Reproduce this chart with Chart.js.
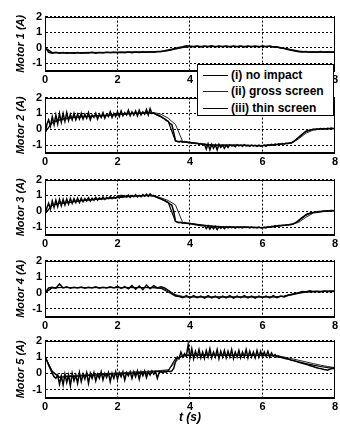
<!DOCTYPE html>
<html>
<head>
<meta charset="utf-8">
<script src="https://cdn.jsdelivr.net/npm/chart.js@4.4.0/dist/chart.umd.min.js"></script>
<style>
body { margin: 0; background: #fff; }
#marco { position: relative; width: 340px; height: 430px; overflow: hidden; background: #fff; }
.panel { position: absolute; left: 0; }
#leyenda { position: absolute; left: 197px; top: 64px; width: 135px; height: 50px; border: 1px solid #000; background: #fff; z-index: 5;
  font-family: "Liberation Sans", Arial, sans-serif; font-weight: bold; font-size: 12px; color: #000; }
.fila { position: absolute; left: 0; height: 14px; line-height: 14px; white-space: nowrap; }
.muestra { position: absolute; left: 5px; top: 7px; width: 25px; height: 0; border-top: 1px solid #000; }
.texto { position: absolute; left: 33px; top: 0; }
</style>
</head>
<body>
<div id="marco">
  <canvas id="c0" class="panel"></canvas>
  <canvas id="c1" class="panel"></canvas>
  <canvas id="c2" class="panel"></canvas>
  <canvas id="c3" class="panel"></canvas>
  <canvas id="c4" class="panel"></canvas>
  <div id="leyenda"></div>
</div>
<script>
// tiempos de muestreo (s)
const tDenso = [0,0.05,0.1,0.15,0.2,0.25,0.3,0.35,0.4,0.45,0.5,0.55,0.6,0.65,0.7,0.75,0.8,0.85,0.9,0.95,
  1,1.05,1.1,1.15,1.2,1.25,1.3,1.35,1.4,1.45,1.5,1.55,1.6,1.65,1.7,1.75,1.8,1.85,1.9,1.95,
  2,2.05,2.1,2.15,2.2,2.25,2.3,2.35,2.4,2.45,2.5,2.55,2.6,2.65,2.7,2.75,2.8,2.85,2.9,2.95,
  3,3.05,3.1,3.15,3.2,3.25,3.3,3.35,3.4,3.45,3.5,3.55,3.6,3.65,3.7,3.75,3.8,3.85,3.9,3.95,
  4,4.05,4.1,4.15,4.2,4.25,4.3,4.35,4.4,4.45,4.5,4.55,4.6,4.65,4.7,4.75,4.8,4.85,4.9,4.95,
  5,5.05,5.1,5.15,5.2,5.25,5.3,5.35,5.4,5.45,5.5,5.55,5.6,5.65,5.7,5.75,5.8,5.85,5.9,5.95,
  6,6.05,6.1,6.15,6.2,6.25,6.3,6.35,6.4,6.45,6.5,6.55,6.6,6.65,6.7,6.75,6.8,6.85,6.9,6.95,
  7,7.05,7.1,7.15,7.2,7.25,7.3,7.35,7.4,7.45,7.5,7.55,7.6,7.65,7.7,7.75,7.8,7.85,7.9,7.95,8];
const tFino = [0,0.1,0.2,0.3,0.4,0.5,0.6,0.7,0.8,0.9,
  1,1.1,1.2,1.3,1.4,1.5,1.6,1.7,1.8,1.9,
  2,2.1,2.2,2.3,2.4,2.5,2.6,2.7,2.8,2.9,
  3,3.1,3.2,3.3,3.4,3.5,3.6,3.7,3.8,3.9,
  4,4.1,4.2,4.3,4.4,4.5,4.6,4.7,4.8,4.9,
  5,5.1,5.2,5.3,5.4,5.5,5.6,5.7,5.8,5.9,
  6,6.1,6.2,6.3,6.4,6.5,6.6,6.7,6.8,6.9,
  7,7.1,7.2,7.3,7.4,7.5,7.6,7.7,7.8,7.9,8];
const tGrueso = [0,0.2,0.4,0.6,0.8,1,1.2,1.4,1.6,1.8,
  2,2.2,2.4,2.6,2.8,3,3.2,3.4,3.6,3.8,
  4,4.2,4.4,4.6,4.8,5,5.2,5.4,5.6,5.8,
  6,6.2,6.4,6.6,6.8,7,7.2,7.4,7.6,7.8,8];

const ticksX = [0, 2, 4, 6, 8];
const ticksY = [-1, 0, 1, 2];
const nombresSerie = ["(i) no impact", "(ii) gross screen", "(iii) thin screen"];
const titulosY = ["Motor 1 (A)", "Motor 2 (A)", "Motor 3 (A)", "Motor 4 (A)", "Motor 5 (A)"];
const tituloX = "t (s)";

// Motor 1
const motor1_i = [0,-0.32,-0.33,-0.33,-0.33,-0.33,-0.32,-0.32,-0.31,-0.31,
  -0.3,-0.3,-0.29,-0.29,-0.28,-0.27,-0.25,-0.18,-0.07,0.03,
  0.08,0.08,0.08,0.08,0.08,0.08,0.08,0.08,0.08,0.08,
  0.08,0.08,0.04,-0.05,-0.15,-0.24,-0.27,-0.28,-0.28,-0.28,-0.28];
const motor1_ii = [0,-0.3,-0.31,-0.31,-0.31,-0.31,-0.3,-0.3,-0.3,-0.29,
  -0.29,-0.28,-0.28,-0.27,-0.27,-0.26,-0.24,-0.2,-0.1,0,
  0.06,0.07,0.07,0.07,0.07,0.07,0.07,0.07,0.07,0.07,
  0.07,0.07,0.05,-0.02,-0.12,-0.21,-0.26,-0.27,-0.27,-0.27,-0.27];
const motor1_iii = [0.05,-0.3,-0.36,-0.3,-0.35,-0.31,-0.36,-0.32,-0.35,-0.31,
  -0.36,-0.32,-0.34,-0.3,-0.35,-0.31,-0.34,-0.3,-0.33,-0.29,
  -0.33,-0.29,-0.32,-0.28,-0.32,-0.28,-0.31,-0.27,-0.3,-0.26,
  -0.29,-0.25,-0.25,-0.2,-0.14,-0.1,-0.04,0.02,0.06,0.12,
  0.1,0.06,0.11,0.05,0.1,0.06,0.12,0.05,0.1,0.06,
  0.11,0.05,0.1,0.06,0.11,0.05,0.1,0.06,0.11,0.05,
  0.1,0.06,0.1,0.05,0.04,-0.02,-0.06,-0.12,-0.17,-0.22,
  -0.26,-0.28,-0.25,-0.3,-0.26,-0.29,-0.25,-0.3,-0.26,-0.29,-0.27];

// Motor 2
const motor2_i = [-0.2,0.45,0.6,0.7,0.75,0.8,0.8,0.85,0.85,0.9,
  0.95,0.95,1,1,1.05,1,0.8,0.5,-0.75,-0.8,
  -0.85,-0.9,-0.95,-1,-1,-1,-1,-1.02,-1.02,-1.03,
  -1.03,-1,-0.97,-0.93,-0.88,-0.5,-0.12,0,0.02,0.04,0.05];
const motor2_ii = [-0.2,0.4,0.55,0.65,0.75,0.78,0.82,0.85,0.88,0.9,
  0.93,0.97,1,1.02,1.05,1.05,0.95,0.7,0.3,-0.78,
  -0.82,-0.88,-0.93,-0.98,-1,-1,-1,-1,-1.02,-1.02,
  -1.02,-0.98,-0.95,-0.9,-0.85,-0.6,-0.25,-0.05,0,0.03,0.05];
const motor2_iii = [-0.3,0.3,0.6,0.2,0.8,0.3,0.9,0.35,1,0.45,1,0.5,1.05,0.55,0.95,0.6,1,0.6,0.95,0.65,
  1,0.65,0.95,0.7,1.05,0.6,0.9,0.75,1,0.65,0.95,0.75,1.05,0.7,0.95,0.8,1.1,0.75,1,0.8,
  1.1,0.8,1.15,0.85,1.05,0.9,1.2,0.85,1.1,0.9,1.15,0.85,1.2,0.9,1.1,0.95,1.25,0.9,1.3,1,
  1.05,0.95,0.9,0.85,0.8,0.72,0.65,0.55,0.5,0.35,0.3,-0.2,-0.7,-0.78,-0.8,-0.75,-0.82,-0.78,-0.8,-0.85,
  -0.82,-0.88,-0.85,-0.9,-0.88,-0.95,-0.9,-0.98,-0.95,-1.25,-0.92,-1.3,-0.95,-1.2,-0.98,-1.3,-0.95,-1.15,-1,-1.2,
  -1,-1.15,-0.98,-1.05,-1.02,-1.1,-0.98,-1.05,-1,-1.08,-0.98,-1.05,-1.02,-1.08,-1,-1.06,-1.02,-1.08,-1,-1.07,
  -1.05,-1,-1.08,-0.98,-1.02,-0.95,-1,-0.93,-0.97,-0.92,-0.95,-0.9,-0.93,-0.88,-0.9,-0.86,-0.85,-0.8,-0.72,-0.62,
  -0.52,-0.42,-0.32,-0.22,-0.15,-0.1,-0.06,-0.03,0,-0.02,0.02,0,0.04,0.01,0.05,0.02,0.06,0.03,0.07,0.04,0.05];

// Motor 3
const motor3_i = [-0.15,0.4,0.5,0.55,0.6,0.68,0.72,0.75,0.78,0.82,
  0.88,0.92,0.95,0.98,1,0.95,0.78,0.55,-0.65,-0.74,
  -0.78,-0.84,-0.9,-0.95,-0.98,-1,-1,-1,-1.02,-1.02,
  -1.03,-1,-0.95,-0.9,-0.85,-0.6,-0.25,-0.08,-0.02,0.02,0.04];
const motor3_ii = [-0.15,0.35,0.48,0.55,0.6,0.65,0.7,0.74,0.78,0.8,
  0.85,0.9,0.93,0.96,1,1,0.85,0.68,0.4,-0.72,
  -0.76,-0.82,-0.88,-0.92,-0.96,-0.98,-1,-1,-1,-1.02,
  -1.02,-0.98,-0.93,-0.88,-0.82,-0.7,-0.38,-0.12,-0.04,0,0.03];
const motor3_iii = [-0.2,0.2,0.5,0.15,0.65,0.25,0.7,0.3,0.75,0.35,0.75,0.4,0.78,0.45,0.8,0.5,0.8,0.55,0.82,0.55,
  0.82,0.6,0.8,0.65,0.85,0.65,0.82,0.7,0.88,0.7,0.85,0.75,0.9,0.75,0.88,0.8,0.92,0.8,0.9,0.82,
  0.95,0.85,1,0.88,0.98,0.9,1.02,0.88,1,0.92,1.05,0.9,1,0.92,1.05,0.95,1.08,0.95,1.1,0.98,
  1,0.92,0.88,0.82,0.78,0.72,0.68,0.6,0.55,0.45,0.38,0,-0.62,-0.7,-0.72,-0.7,-0.75,-0.72,-0.76,-0.78,
  -0.78,-0.8,-0.82,-0.85,-0.85,-0.88,-0.9,-0.92,-0.9,-1.1,-0.92,-1.12,-0.95,-1.1,-0.95,-1.15,-0.97,-1.08,-0.98,-1.1,
  -0.98,-1.05,-0.97,-1.04,-1,-1.06,-0.98,-1.04,-1,-1.05,-0.98,-1.03,-1,-1.05,-1,-1.04,-1.02,-1.06,-1,-1.05,
  -1.06,-1.02,-1.05,-0.98,-1,-0.95,-0.96,-0.92,-0.93,-0.9,-0.9,-0.88,-0.88,-0.86,-0.85,-0.84,-0.82,-0.8,-0.75,-0.68,
  -0.58,-0.48,-0.38,-0.3,-0.22,-0.16,-0.12,-0.09,-0.07,-0.05,-0.04,-0.02,-0.01,0,0.01,0.02,0.03,0.03,0.04,0.04,0.05];

// Motor 4
const motor4_i = [0,0.32,0.33,0.33,0.33,0.33,0.33,0.33,0.33,0.33,
  0.33,0.33,0.33,0.33,0.33,0.32,0.28,0.05,-0.2,-0.25,
  -0.26,-0.26,-0.26,-0.26,-0.26,-0.26,-0.26,-0.26,-0.26,-0.26,
  -0.26,-0.26,-0.25,-0.2,-0.1,0,0.06,0.08,0.09,0.1,0.1];
const motor4_ii = [0,0.3,0.32,0.32,0.32,0.32,0.32,0.32,0.32,0.32,
  0.32,0.32,0.32,0.32,0.32,0.32,0.3,0.15,-0.12,-0.22,
  -0.24,-0.25,-0.25,-0.25,-0.25,-0.25,-0.25,-0.25,-0.25,-0.25,
  -0.25,-0.25,-0.24,-0.22,-0.14,-0.04,0.04,0.07,0.08,0.09,0.1];
const motor4_iii = [0,0.3,0.35,0.28,0.55,0.3,0.38,0.28,0.35,0.3,
  0.36,0.28,0.34,0.3,0.38,0.29,0.35,0.3,0.37,0.3,
  0.4,0.28,0.38,0.25,0.45,0.22,0.42,0.2,0.48,0.25,
  0.45,0.3,0.38,0.3,0.15,0,-0.15,-0.22,-0.3,-0.18,
  -0.32,-0.18,-0.3,-0.2,-0.33,-0.18,-0.32,-0.2,-0.34,-0.2,
  -0.32,-0.18,-0.33,-0.2,-0.3,-0.18,-0.32,-0.2,-0.33,-0.2,
  -0.3,-0.2,-0.32,-0.18,-0.3,-0.2,-0.25,-0.15,-0.1,-0.05,
  0,0.08,0.05,0.12,0.08,0.1,0.06,0.12,0.08,0.1,0.08];

// Motor 5
const motor5_i = [1,0.1,-0.25,-0.2,-0.18,-0.15,-0.12,-0.1,-0.08,-0.05,
  -0.03,0,0.02,0.05,0.07,0.1,0.12,0.15,0.9,1.05,
  1.1,1.12,1.12,1.12,1.12,1.1,1.1,1.1,1.1,1.1,
  1.1,1.08,1.05,0.95,0.82,0.7,0.6,0.5,0.42,0.35,0.32];
const motor5_ii = [1,0.15,-0.2,-0.15,-0.12,-0.1,-0.08,-0.05,-0.03,0,
  0.02,0.05,0.08,0.1,0.12,0.15,0.18,0.22,0.7,1.1,
  1.15,1.15,1.15,1.15,1.12,1.12,1.12,1.12,1.1,1.1,
  1.1,1.1,1.08,1,0.9,0.8,0.7,0.6,0.5,0.42,0.35];
const motor5_iii = [1,0.8,0.5,0.25,0,-0.2,-0.3,-0.1,-0.65,-0.15,-0.7,-0.05,-0.55,-0.1,-0.75,0,-0.45,-0.1,-0.6,0.05,
  -0.5,-0.05,-0.35,0.05,-0.6,0,-0.3,0.05,-0.45,-0.05,-0.3,0.1,-0.4,0,-0.25,0.05,-0.5,0,-0.3,0.1,
  -0.35,0.05,-0.2,0.1,-0.4,0.05,-0.15,0.1,-0.3,0.1,-0.2,0.15,-0.35,0.1,-0.15,0.15,-0.25,0.1,-0.1,0.15,
  -0.05,0.1,-0.3,0.05,0.1,0.05,0.12,0.08,0.15,0.1,0.15,0.3,0.7,1,0.9,1.3,1,1.2,1.05,1.75,
  0.95,1.5,0.9,1.35,1,1.45,0.95,1.3,0.92,1.4,1,1.5,0.95,1.3,1,1.45,0.9,1.35,1,1.4,
  0.95,1.35,1,1.45,0.92,1.3,1,1.4,0.95,1.3,1,1.45,0.95,1.35,1,1.3,0.95,1.4,1,1.35,
  1,1.3,1.05,1.35,1,1.25,1.05,1.15,1,1.05,0.98,0.95,0.92,0.9,0.87,0.84,0.8,0.78,0.75,0.72,
  0.68,0.65,0.62,0.58,0.55,0.52,0.48,0.45,0.42,0.38,0.35,0.32,0.3,0.27,0.24,0.22,0.2,0.25,0.28,0.3,0.3];

const motores = [
  [motor1_i, motor1_ii, motor1_iii],
  [motor2_i, motor2_ii, motor2_iii],
  [motor3_i, motor3_ii, motor3_iii],
  [motor4_i, motor4_ii, motor4_iii],
  [motor5_i, motor5_ii, motor5_iii]
];
// eje de tiempo de la serie (iii) en cada motor
const tiemposIII = [tFino, tDenso, tDenso, tFino, tDenso];

// posicion de cada panel: arriba del area de trazado y alto
const arribaPanel = [14, 95, 177, 258, 338];
const altoPanel = [57, 58, 58, 59, 60];
const fuente = "'Liberation Sans', Arial, sans-serif";
const estiloLinea = [
  { ancho: 1.2, color: "#000" },
  { ancho: 1, color: "#222" },
  { ancho: 1.5, color: "#000" }
];

function puntos(ts, vs) {
  return vs.map((v, k) => ({ x: ts[k], y: v }));
}

/* marco completo alrededor del area */
const marcoPlugin = {
  id: "marcoCaja",
  afterDatasetsDraw(chart) {
    const a = chart.chartArea;
    const ctx = chart.ctx;
    ctx.save();
    ctx.strokeStyle = "#000";
    ctx.lineWidth = 1;
    ctx.setLineDash([]);
    ctx.strokeRect(Math.round(a.left) + 0.5, Math.round(a.top) + 0.5, Math.round(a.right - a.left) - 1, Math.round(a.bottom - a.top) - 1);
    ctx.restore();
  }
};

function crearPanel(i) {
  const ultimo = i === 4;
  const altoX = ultimo ? 32 : 17;
  const canvas = document.getElementById("c" + i);
  canvas.width = 340;
  canvas.height = 7 + altoPanel[i] + altoX;
  canvas.style.top = (arribaPanel[i] - 7) + "px";

  const series = motores[i];
  const datasets = series.map((vals, k) => ({
    label: nombresSerie[k],
    data: puntos(k === 2 ? tiemposIII[i] : tGrueso, vals),
    borderColor: estiloLinea[k].color,
    borderWidth: estiloLinea[k].ancho,
    pointRadius: 0,
    tension: 0,
    fill: false
  }));

  return new Chart(canvas.getContext("2d"), {
    type: "line",
    data: { datasets },
    options: {
      responsive: false,
      animation: false,
      layout: { padding: { top: 7, right: 5, left: 0, bottom: 0 } },
      plugins: { legend: { display: false }, tooltip: { enabled: false } },
      scales: {
        x: {
          type: "linear", min: 0, max: 8,
          afterBuildTicks: s => { s.ticks = ticksX.map(v => ({ value: v })); },
          afterFit: s => { s.height = altoX; },
          grid: { color: "#000", lineWidth: 1, drawTicks: false },
          border: { display: true, color: "#000", dash: [2, 2] },
          ticks: { color: "#000", padding: 2, autoSkip: false, maxRotation: 0, font: { family: fuente, size: 11, weight: "bold" } },
          title: { display: ultimo, text: tituloX, color: "#000", padding: { top: 0, bottom: 5 }, font: { family: fuente, size: 12, weight: "bold", style: "italic" } }
        },
        y: {
          min: -1.5, max: 2,
          afterBuildTicks: s => { s.ticks = ticksY.map(v => ({ value: v })); },
          afterFit: s => { s.width = 45; },
          grid: { color: "#000", lineWidth: 1, drawTicks: false },
          border: { display: true, color: "#000", dash: [2, 2] },
          ticks: { color: "#000", padding: 3, font: { family: fuente, size: 11, weight: "bold" } },
          title: { display: true, text: titulosY[i], color: "#000", padding: { top: 14, bottom: 0 }, font: { family: fuente, size: 11, weight: "bold", style: "italic" } }
        }
      }
    },
    plugins: [marcoPlugin]
  });
}

for (let i = 0; i < 5; i++) crearPanel(i);

// leyenda (texto real encima de los paneles 1 y 2)
const leyenda = document.getElementById("leyenda");
const filasY = [3, 19, 36];
nombresSerie.forEach((nombre, k) => {
  const fila = document.createElement("div");
  fila.className = "fila";
  fila.style.top = filasY[k] + "px";
  fila.style.width = "135px";
  const m = document.createElement("span");
  m.className = "muestra";
  m.style.borderTopWidth = (k === 2 ? 1.5 : 1) + "px";
  m.style.borderTopColor = estiloLinea[k].color;
  const tx = document.createElement("span");
  tx.className = "texto";
  tx.textContent = nombre;
  fila.appendChild(m);
  fila.appendChild(tx);
  leyenda.appendChild(fila);
});
</script>
</body>
</html>
